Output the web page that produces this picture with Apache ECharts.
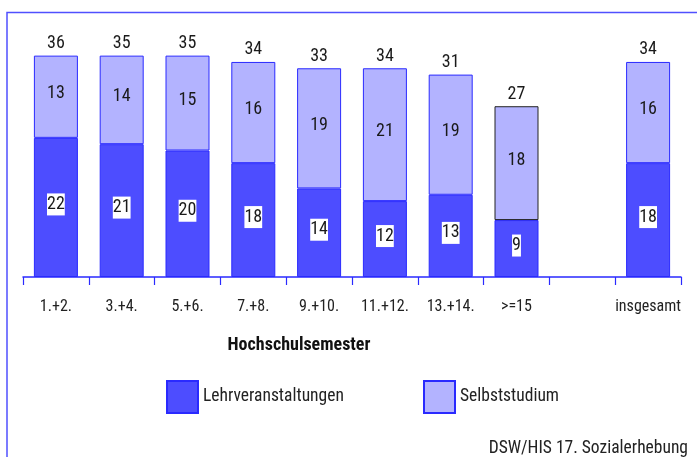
<!DOCTYPE html>
<html>
<head>
<meta charset="utf-8">
<script src="https://cdn.jsdelivr.net/npm/echarts@6/dist/echarts.min.js"></script>
<style>
  html, body { margin: 0; padding: 0; background: #fff; }
  #chart { width: 697px; height: 457px; }
</style>
</head>
<body>
<div id="chart"></div>
<script>
// Wochenstunden nach Hochschulsemester
const categories = ['1.+2.', '3.+4.', '5.+6.', '7.+8.', '9.+10.', '11.+12.', '13.+14.', '>=15', '', 'insgesamt'];
const lehrveranstaltungen = [22, 21, 20, 18, 14, 12, 13, 9, null, 18];
const selbststudium = [13, 14, 15, 16, 19, 21, 19, 18, null, 16];
const gesamt = [36, 35, 35, 34, 33, 34, 31, 27, null, 34];

const FONT = '"Roboto Condensed", "Liberation Sans", sans-serif';
const DARK = '#4d4dff';
const LIGHT = '#b3b3ff';
const EDGE = '#2a2aff';
const FRAME = '#5050ff';

const chart = echarts.init(document.getElementById('chart'));

const insideLabel = {
  show: true,
  position: 'inside',
  offset: [0, -3],
  fontFamily: FONT,
  fontSize: 18,
  color: '#1a1a1a'
};

const legendText = { fontFamily: FONT, fontSize: 17.5, color: '#222' };

chart.setOption({
  animation: false,
  grid: { left: 23, right: 16, top: 24, bottom: 180 },
  xAxis: {
    type: 'category',
    data: categories,
    axisLine: { lineStyle: { color: EDGE, width: 1.5 } },
    axisTick: { show: true, length: 8, lineStyle: { color: EDGE, width: 1.2 } },
    axisLabel: { margin: 22, fontFamily: FONT, fontSize: 16, color: '#222', interval: 0 }
  },
  yAxis: { type: 'value', min: 0, max: 40, show: false },
  title: {
    text: 'Hochschulsemester',
    left: 299, top: 336, textAlign: 'center', padding: 0,
    textStyle: { fontFamily: FONT, fontSize: 18, fontWeight: 'bold', color: '#111' }
  },
  legend: [
    {
      data: ['Lehrveranstaltungen'], left: 166, top: 380, padding: 0,
      icon: 'rect', itemWidth: 31, itemHeight: 32,
      textStyle: legendText, selectedMode: false
    },
    {
      data: ['Selbststudium'], left: 423, top: 380, padding: 0,
      icon: 'rect', itemWidth: 31, itemHeight: 32,
      textStyle: legendText, selectedMode: false
    }
  ],
  graphic: [
    {
      type: 'rect', silent: true,
      shape: { x: 7, y: 12.5, width: 760, height: 520 },
      style: { fill: 'none', stroke: FRAME, lineWidth: 1.5 }
    },
    {
      type: 'text', right: 9, top: 440, silent: true,
      style: { text: 'DSW/HIS 17. Sozialerhebung', fontFamily: FONT, fontSize: 17.5, fill: '#222' }
    }
  ],
  series: [
    {
      name: 'Lehrveranstaltungen', type: 'bar', stack: 'std', barWidth: 44,
      data: lehrveranstaltungen,
      itemStyle: { color: DARK, borderColor: EDGE, borderWidth: 1 },
      label: Object.assign({}, insideLabel, { backgroundColor: '#fff', padding: [2, 0, 2, 0] })
    },
    {
      name: 'Selbststudium', type: 'bar', stack: 'std', barWidth: 44,
      data: selbststudium.map((v, i) => i === 7
        ? { value: v, itemStyle: { borderColor: '#222' } }
        : v),
      itemStyle: { color: LIGHT, borderColor: EDGE, borderWidth: 1 },
      label: insideLabel
    },
    {
      // zero-height cap carrying the totals above each column
      name: 'gesamt', type: 'bar', stack: 'std', barWidth: 44,
      data: gesamt.map(v => (v == null ? null : 0)),
      itemStyle: { color: 'rgba(0,0,0,0)', borderWidth: 0 },
      label: {
        show: true, position: 'top', distance: 3,
        formatter: p => gesamt[p.dataIndex],
        fontFamily: FONT, fontSize: 18, color: '#1a1a1a'
      }
    }
  ]
});
</script>
</body>
</html>
